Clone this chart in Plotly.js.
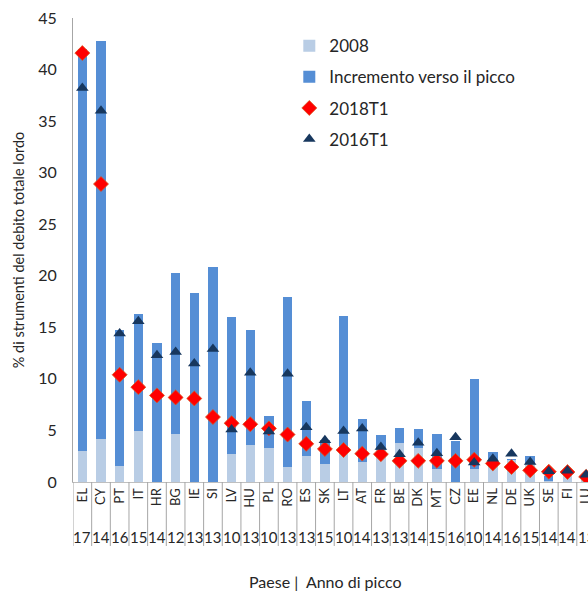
<!DOCTYPE html>
<html>
<head>
<meta charset="utf-8">
<script src="https://cdn.plot.ly/plotly-3.0.1.min.js"></script>
<style>html,body{margin:0;padding:0;background:#fff;}#chart{width:588px;height:592px;}</style>
</head>
<body>
<div id="chart"></div>
<script>
const countries = ['EL','CY','PT','IT','HR','BG','IE','SI','LV','HU','PL','RO','ES','SK','LT','AT','FR','BE','DK','MT','CZ','EE','NL','DE','UK','SE','FI','LU'];
const peakYears = ['17','14','16','15','14','12','13','13','10','13','10','13','13','15','10','14','13','13','14','15','16','10','14','16','15','14','14','13'];
const level2008 = [3.0,4.2,1.6,4.9,0,4.7,0,0,2.7,3.6,3.3,1.5,2.5,1.7,3.0,1.9,3.1,3.8,3.3,1.3,0,1.3,1.8,2.1,1.7,0.1,0.8,0.3];
const incrementToPeak = [39.0,38.6,13.1,11.4,13.5,15.6,18.3,20.9,13.3,11.1,3.1,16.4,5.4,2.4,13.1,4.2,1.5,1.4,1.8,3.4,4.0,8.7,1.1,0.1,0.8,0.5,0.1,0.2];
const q2018T1 = [41.6,28.9,10.4,9.2,8.4,8.2,8.1,6.3,5.7,5.6,5.2,4.6,3.7,3.2,3.1,2.75,2.7,2.05,2.05,2.05,2.05,2.15,1.8,1.45,1.13,1.0,0.97,0.5];
const q2016T1 = [38.2,36.0,14.4,15.6,12.3,12.6,11.5,12.9,5.1,10.6,4.9,10.5,5.3,4.05,4.95,5.2,3.4,2.7,3.8,2.8,4.35,1.9,2.25,2.75,1.95,1.05,1.1,0.7];

const FONT = 'Lato, "Open Sans", sans-serif';
const plotTop = 18, plotBottom = 482, plotH = plotBottom - plotTop;
const px2paper = p => -(p - plotBottom) / plotH;

const traces = [
  {type:'bar', name:'2008', x:countries, y:level2008, marker:{color:'#B9CDE5'}, legendgroup:'a'},
  {type:'bar', name:'Incremento verso il picco', x:countries, y:incrementToPeak, marker:{color:'#558ED5'}, legendgroup:'b'},
  {type:'scatter', mode:'markers', name:'2018T1', x:countries, y:q2018T1,
   marker:{symbol:'diamond', size:11.5, color:'#FF0000', line:{color:'#D9541E', width:0.8}}, legendgroup:'c'},
  {type:'scatter', mode:'markers', name:'2016T1', x:countries, y:q2016T1,
   marker:{symbol:'triangle-up', size:11, color:'#17375E'}, legendgroup:'d'}
];

const shapes = [];
for (let i = 0; i <= countries.length; i++) {
  shapes.push({type:'line', xref:'x', yref:'paper', x0:i-0.5, x1:i-0.5, y0:0, y1:px2paper(546),
    line:{color:'#A6A6A6', width:1}});
}
const annotations = peakYears.map((yr, i) => ({
  xref:'x', yref:'paper', x:countries[i], y:px2paper(537), text:yr, showarrow:false,
  font:{family:FONT, size:15, color:'#262626'}, xanchor:'center', yanchor:'middle'
}));
annotations.push({xref:'paper', yref:'paper', x:0.49, y:px2paper(581), text:'Paese |  Anno di picco',
  showarrow:false, font:{family:FONT, size:16, color:'#262626'}, xanchor:'center', yanchor:'middle'});

const layout = {
  width:588, height:592,
  margin:{l:73, r:0, t:plotTop, b:592-plotBottom, pad:0},
  paper_bgcolor:'#fff', plot_bgcolor:'#fff',
  barmode:'stack', bargap:0.5,
  showlegend:true,
  legend:{x:0.42, y:0.978, xanchor:'left', yanchor:'top', bgcolor:'rgba(0,0,0,0)',
    font:{family:FONT, size:17, color:'#262626'}, tracegroupgap:6, traceorder:'grouped'},
  xaxis:{type:'category', range:[-0.5, 27.1], tickangle:-90, ticks:'', showgrid:false, zeroline:false,
    showline:true, linecolor:'#BFBFBF', linewidth:1, tickfont:{family:FONT, size:13, color:'#262626'},
    fixedrange:true},
  yaxis:{range:[0,45], dtick:5, tick0:0, showgrid:false, zeroline:false, showline:true,
    linecolor:'#A6A6A6', linewidth:1, ticks:'', ticklabelstandoff:12,
    tickfont:{family:FONT, size:16, color:'#262626'},
    title:{text:'% di strumenti del debito totale lordo', font:{family:FONT, size:14.5, color:'#262626'}, standoff:10},
    fixedrange:true},
  shapes:shapes,
  annotations:annotations,
  hovermode:false
};

Plotly.newPlot('chart', traces, layout, {displayModeBar:false, staticPlot:true});
</script>
</body>
</html>
